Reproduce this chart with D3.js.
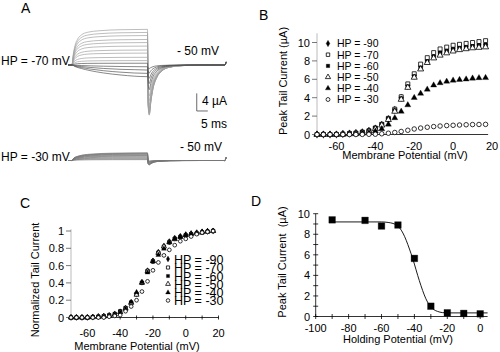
<!DOCTYPE html>
<meta charset="utf-8">
<title>Tail currents</title>
<script src="https://cdn.jsdelivr.net/npm/d3@7"></script>
<style>
    body { margin: 0; background: white; }
    text { font-family: "Liberation Sans", Arial, sans-serif; fill: black; }
    text.tick { font-size: 11px; }
    text.label { font-size: 11px; }
    text.panel { font-size: 14px; }
    text.trace { font-size: 12px; }
    text.legB { font-size: 10.5px; }
    text.legC { font-size: 12.5px; }
</style>
<div id="fig"></div>
<script>

// ---- A: sweeps (µA), step 1.8-36 ms
var sweepPlat = [8.1, 7.4, 6.7, 5.8, 5.1, 4.3, 3.4, 2.7, 1.75, 1.0, 0.4, -0.4, -1.15, -1.9, -2.65];
var sweepTail = [-11.4, -11.3, -11.1, -10.9, -10.6, -10.2, -9.7, -9.0, -8.1, -7.0, -5.6, -4.2, -3.0, -1.8, -0.8];
var lowPlat = [1.75, 1.65, 1.55, 1.45, 1.3, 1.15, 1.0, 0.8, 0.6, 0.4, 0.2];
var lowTail = [-1.0, -0.95, -0.9, -0.8, -0.7, -0.6, -0.5, -0.4, -0.3, -0.2, -0.1];
// trace profiles [ms, fraction]
var outShape = [[0, 0], [1.8, 0], [2.4, 0.3], [3.2, 0.55], [4.3, 0.72], [6, 0.84], [9, 0.92], [14, 0.96], [24, 0.99], [36, 1]];
var inShape = [[0, 0], [1.8, 0], [3, 0.12], [6, 0.3], [10, 0.48], [16, 0.68], [24, 0.86], [36, 1]];
var lowShape = [[0, 0], [1.8, 0], [2.6, 0.3], [5, 0.6], [10, 0.82], [20, 0.95], [36, 1]];
var tailShape = [[36.3, 0.8], [36.8, 1], [37.5, 0.74], [38.5, 0.47], [40, 0.27], [42.5, 0.12], [46, 0.045], [52, 0.012], [60, 0], [71, 0]];
var endTick = [71.6, 0.7];

// ---- B: peak tail current (µA) vs membrane potential
var volts = [-70, -66.7, -63.3, -60, -56.7, -53.3, -50, -46.7, -43.3, -40, -36.7, -33.3, -30, -26.7, -23.3, -20, -16.7, -13.3, -10, -6.7, -3.3, 0, 3.3, 6.7, 10, 13.3, 16.7];
var hp90 = [0, 0, 0, 0, 0.05, 0.1, 0.15, 0.25, 0.4, 0.65, 1.05, 1.7, 2.7, 4.0, 5.3, 6.4, 7.4, 8.1, 8.6, 9.0, 9.2, 9.4, 9.5, 9.6, 9.7, 9.75, 9.8];
var hp70 = [0, 0, 0, 0, 0.05, 0.1, 0.15, 0.25, 0.4, 0.7, 1.1, 1.75, 2.75, 4.1, 5.5, 6.6, 7.65, 8.35, 8.9, 9.3, 9.5, 9.7, 9.8, 9.9, 10.0, 10.1, 10.2];
var hp60 = [0, 0, 0, 0, 0.05, 0.1, 0.15, 0.25, 0.4, 0.7, 1.1, 1.7, 2.6, 3.9, 5.2, 6.3, 7.2, 7.9, 8.4, 8.8, 9.0, 9.2, 9.35, 9.45, 9.55, 9.65, 9.7];
var hp50 = [0, 0, 0, 0, 0.05, 0.1, 0.15, 0.2, 0.35, 0.6, 1.0, 1.6, 2.5, 3.8, 5.1, 6.2, 7.1, 7.8, 8.3, 8.6, 8.85, 9.05, 9.2, 9.3, 9.4, 9.45, 9.5];
var hp40 = [0, 0, 0, 0, 0, 0.02, 0.05, 0.1, 0.2, 0.35, 0.6, 1.1, 1.8, 2.5, 3.2, 4.0, 4.45, 4.9, 5.35, 5.6, 5.76, 5.88, 5.95, 6.0, 6.1, 6.15, 6.16];
var hp30 = [0, 0, 0, 0, 0, 0, 0, 0.01, 0.02, 0.03, 0.08, 0.14, 0.22, 0.33, 0.46, 0.6, 0.7, 0.79, 0.86, 0.92, 0.97, 1.0, 1.03, 1.06, 1.08, 1.09, 1.1];
var hpNames = ["HP = -90", "HP = -70", "HP = -60", "HP = -50", "HP = -40", "HP = -30"];
var hpMarks = ["diamond", "squareOpen", "square", "triangleOpen", "triangle", "circleOpen"];

// ---- D: peak tail current vs holding potential, with fitted curve
var holdV = [-90, -70, -60, -50, -40, -30, -20, -10, 0];
var holdI = [9.4, 9.35, 8.8, 8.9, 5.65, 1.0, 0.36, 0.3, 0.26];
var fitV = [-90, -60, -56, -53, -50, -48, -46, -44, -42, -40, -38, -36, -34, -32, -30, -28, -26, -23, -20, -10, 4.5];
var fitI = [9.2, 9.2, 9.15, 9.05, 8.8, 8.4, 7.8, 7.0, 6.1, 5.1, 4.0, 3.0, 2.1, 1.4, 0.95, 0.65, 0.5, 0.38, 0.35, 0.35, 0.35];

var series = [hp90, hp70, hp60, hp50, hp40, hp30];

var svg = d3.select("#fig").append("svg")
    .attr("width", 500)
    .attr("height", 352);

function marker(g, type, x, y, area) {
    var sym = {diamond: d3.symbolDiamond, squareOpen: d3.symbolSquare, square: d3.symbolSquare,
        triangleOpen: d3.symbolTriangle, triangle: d3.symbolTriangle, circleOpen: d3.symbolCircle}[type];
    var open = type.indexOf("Open") > 0;
    g.append("path")
        .attr("d", d3.symbol().type(sym).size(area)())
        .attr("transform", "translate(" + x + "," + y + ")")
        .attr("fill", open ? "white" : "black")
        .attr("stroke", "black")
        .attr("stroke-width", open ? 0.8 : 0.3);
}

//////////////// A
var xA = d3.scaleLinear().domain([0, 72]).range([68, 227]);
var yA1 = d3.scaleLinear().domain([-12, 9]).range([117.8, 25.4]);
var yA2 = d3.scaleLinear().domain([-2, 2]).range([169.3, 151.7]);

function sweep(plat, tail, shape) {
    var pts = shape.map(function(p) { return [p[0], p[1] * plat]; });
    tailShape.forEach(function(p) { pts.push([p[0], p[1] * tail]); });
    pts.push(endTick);
    return pts;
}

var lineA1 = d3.line().x(function(d) { return xA(d[0]); }).y(function(d) { return yA1(d[1]); }).curve(d3.curveMonotoneX);
var lineA2 = d3.line().x(function(d) { return xA(d[0]); }).y(function(d) { return yA2(d[1]); }).curve(d3.curveMonotoneX);

svg.append("g").selectAll("path")
    .data(sweepPlat)
    .enter()
    .append("path")
    .attr("d", function(p, i) { return lineA1(sweep(p, sweepTail[i], p >= 0 ? outShape : inShape)); })
    .attr("fill", "none")
    .attr("stroke", function(p) { return p > 0.5 ? "#a0a0a0" : "#555"; })
    .attr("stroke-width", 0.7);

svg.append("g").selectAll("path")
    .data(lowPlat)
    .enter()
    .append("path")
    .attr("d", function(p, i) { return lineA2(sweep(p, lowTail[i], lowShape)); })
    .attr("fill", "none")
    .attr("stroke", "#777")
    .attr("stroke-width", 0.7);

// scale bar 4 µA / 5 ms
var barT = 58.3, barI = -10.45;
svg.append("path")
    .attr("d", "M" + xA(barT) + "," + yA1(barI + 4) + "V" + yA1(barI) + "H" + xA(barT + 5))
    .attr("fill", "none")
    .attr("stroke", "#444")
    .attr("stroke-width", 0.8);

svg.append("text").attr("class", "trace").attr("x", 202).attr("y", 105).text("4 µA");
svg.append("text").attr("class", "trace").attr("x", 201).attr("y", 128).text("5 ms");
svg.append("text").attr("class", "trace").attr("x", 1).attr("y", 65).text("HP = -70 mV");
svg.append("text").attr("class", "trace").attr("x", 177).attr("y", 54.5).text("- 50 mV");
svg.append("text").attr("class", "trace").attr("x", 1).attr("y", 160.5).text("HP = -30 mV");
svg.append("text").attr("class", "trace").attr("x", 180).attr("y", 151).text("- 50 mV");
svg.append("text").attr("class", "panel").attr("x", 21).attr("y", 13).text("A");

//////////////// B
var xB = d3.scaleLinear().domain([-70, 20]).range([317, 492]);
var yB = d3.scaleLinear().domain([0, 10]).range([134.5, 42.5]);
var gB = svg.append("g");

gB.append("line").attr("x1", xB(-70)).attr("x2", xB(-70)).attr("y1", yB(11)).attr("y2", yB(0))
    .attr("stroke", "#aaa").attr("stroke-width", 0.8);
gB.append("line").attr("x1", xB(-70)).attr("x2", xB(18)).attr("y1", yB(0)).attr("y2", yB(0))
    .attr("stroke", "black").attr("stroke-width", 0.8);

[0, 2, 4, 6, 8, 10].forEach(function(v) {
    gB.append("line").attr("x1", xB(-70) - 5).attr("x2", xB(-70)).attr("y1", yB(v)).attr("y2", yB(v))
        .attr("stroke", "#555").attr("stroke-width", 0.8);
    gB.append("text").attr("class", "tick").attr("x", xB(-70) - 7).attr("y", yB(v) + 4)
        .attr("text-anchor", "end").text(v);
});
[-60, -40, -20, 0, 20].forEach(function(v) {
    gB.append("text").attr("class", "tick").attr("x", xB(v)).attr("y", 149.5)
        .attr("text-anchor", "middle").text(v);
});

series.forEach(function(s, k) {
    s.forEach(function(v, i) { marker(gB, hpMarks[k], xB(volts[i]), yB(v), 16); });
});

var legBy = [43.5, 54.7, 65.9, 77.1, 88.3, 99.5];
hpNames.forEach(function(n, k) {
    marker(gB, hpMarks[k], 328, legBy[k], 12);
    gB.append("text").attr("class", "legB").attr("x", 337).attr("y", legBy[k] + 3.8).text(n);
});

gB.append("text").attr("class", "label").attr("x", 405).attr("y", 159)
    .attr("text-anchor", "middle").text("Membrane Potential (mV)");
gB.append("text").attr("class", "label").attr("transform", "translate(287,81) rotate(-90)")
    .attr("text-anchor", "middle").text("Peak Tail Current (µA)");
svg.append("text").attr("class", "panel").attr("x", 259).attr("y", 20).text("B");

//////////////// C
var xC = d3.scaleLinear().domain([-70, 20]).range([71, 218.5]);
var yC = d3.scaleLinear().domain([0, 1]).range([317.5, 231]);
var gC = svg.append("g");

gC.append("line").attr("x1", xC(-70)).attr("x2", xC(-70)).attr("y1", yC(1.02)).attr("y2", yC(0))
    .attr("stroke", "#aaa").attr("stroke-width", 0.8);
gC.append("line").attr("x1", xC(-70)).attr("x2", xC(20)).attr("y1", yC(0)).attr("y2", yC(0))
    .attr("stroke", "black").attr("stroke-width", 0.8);

[0, 0.2, 0.4, 0.6, 0.8, 1].forEach(function(v) {
    gC.append("line").attr("x1", xC(-70) - 5).attr("x2", xC(-70)).attr("y1", yC(v)).attr("y2", yC(v))
        .attr("stroke", "#555").attr("stroke-width", 0.8);
    gC.append("text").attr("class", "tick").attr("x", xC(-70) - 7).attr("y", yC(v) + 4)
        .attr("text-anchor", "end").text(v);
});
d3.range(-60, 21, 10).forEach(function(v) {
    gC.append("line").attr("x1", xC(v)).attr("x2", xC(v)).attr("y1", yC(0) - 2).attr("y2", yC(0) + 2)
        .attr("stroke", "black").attr("stroke-width", 0.8);
});
[-60, -40, -20, 0, 20].forEach(function(v) {
    gC.append("text").attr("class", "tick").attr("x", xC(v)).attr("y", 336.5)
        .attr("text-anchor", "middle").text(v);
});

series.forEach(function(s, k) {
    var mx = d3.max(s);
    s.forEach(function(v, i) { marker(gC, hpMarks[k], xC(volts[i]), yC(v / mx), 11); });
});

var legCy = [259, 267.5, 276, 284, 292.5, 300.5];
hpNames.forEach(function(n, k) {
    marker(gC, hpMarks[k], 168, legCy[k], 10);
    gC.append("text").attr("class", "legC").attr("x", 174).attr("y", legCy[k] + 4.5).text(n);
});

gC.append("text").attr("class", "label").attr("x", 137).attr("y", 349.5)
    .attr("text-anchor", "middle").text("Membrane Potential (mV)");
gC.append("text").attr("class", "label").attr("transform", "translate(39,280) rotate(-90)")
    .attr("text-anchor", "middle").text("Normalized Tail Current");
svg.append("text").attr("class", "panel").attr("x", 20).attr("y", 208).text("C");

//////////////// D
var xD = d3.scaleLinear().domain([-100, 4.5]).range([315.7, 487.6]);
var yD = d3.scaleLinear().domain([0, 10]).range([316.5, 213.7]);
var gD = svg.append("g");

gD.append("line").attr("x1", xD(-100)).attr("x2", xD(-100)).attr("y1", yD(10)).attr("y2", yD(0))
    .attr("stroke", "black").attr("stroke-width", 0.8);
gD.append("line").attr("x1", xD(-100)).attr("x2", xD(4.5)).attr("y1", yD(0)).attr("y2", yD(0))
    .attr("stroke", "black").attr("stroke-width", 0.8);

d3.range(0, 11, 1).forEach(function(v) {
    gD.append("line").attr("x1", xD(-100) - 2.5).attr("x2", xD(-100) + 2.5).attr("y1", yD(v)).attr("y2", yD(v))
        .attr("stroke", "black").attr("stroke-width", 0.8);
});
[0, 2, 4, 6, 8, 10].forEach(function(v) {
    gD.append("text").attr("class", "tick").attr("x", 310).attr("y", yD(v) + 4)
        .attr("text-anchor", "end").text(v);
});
d3.range(-100, 1, 10).forEach(function(v) {
    gD.append("line").attr("x1", xD(v)).attr("x2", xD(v)).attr("y1", yD(0) - 2.5).attr("y2", yD(0) + 2.5)
        .attr("stroke", "black").attr("stroke-width", 0.8);
});
d3.range(-100, 1, 20).forEach(function(v) {
    gD.append("text").attr("class", "tick").attr("x", xD(v)).attr("y", 332)
        .attr("text-anchor", "middle").text(v);
});

gD.append("path")
    .datum(d3.zip(fitV, fitI))
    .attr("d", d3.line().x(function(d) { return xD(d[0]); }).y(function(d) { return yD(d[1]); }).curve(d3.curveMonotoneX))
    .attr("fill", "none")
    .attr("stroke", "black")
    .attr("stroke-width", 0.9);

holdV.forEach(function(v, i) { marker(gD, "square", xD(v), yD(holdI[i]), 44); });

gD.append("text").attr("class", "label").attr("x", 398).attr("y", 342.5)
    .attr("text-anchor", "middle").text("Holding Potential (mV)");
gD.append("text").attr("class", "label").attr("transform", "translate(285.5,262) rotate(-90)")
    .attr("text-anchor", "middle").style("white-space", "pre").text("Peak Tail Current  (µA)");
svg.append("text").attr("class", "panel").attr("x", 251).attr("y", 206).text("D");

</script>
